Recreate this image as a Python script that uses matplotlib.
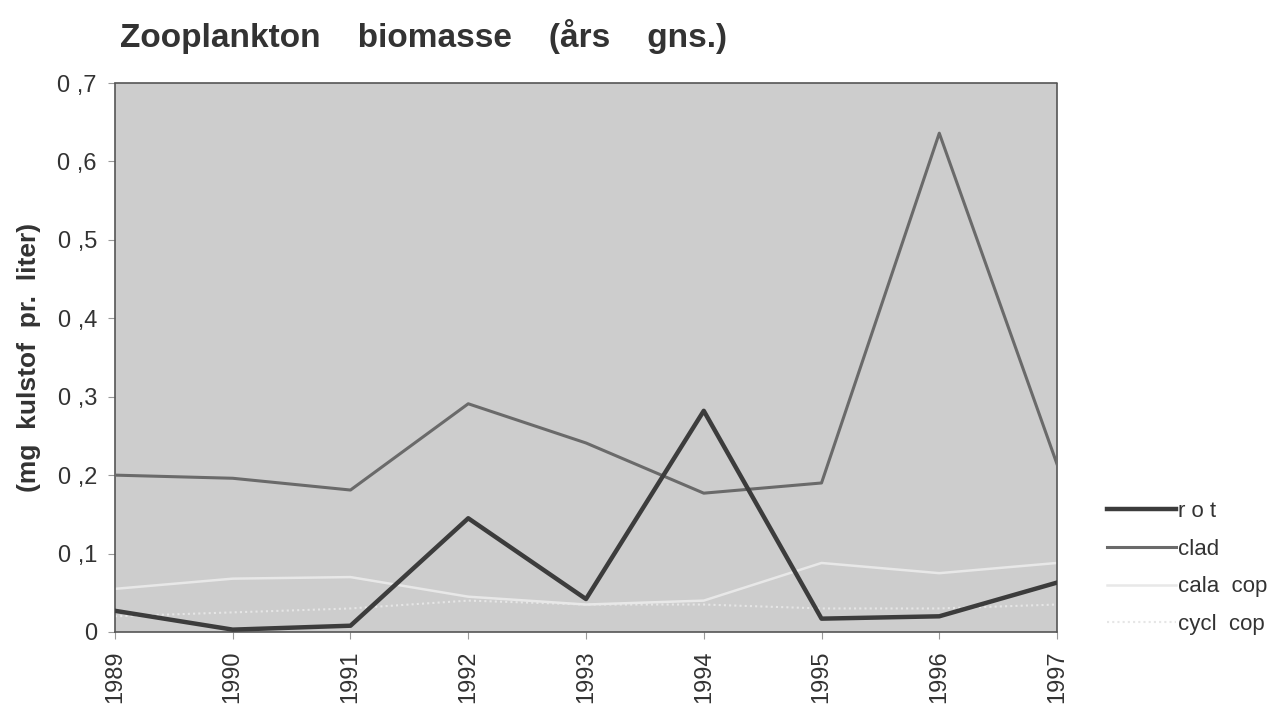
import matplotlib
matplotlib.use("Agg")
import matplotlib.pyplot as plt
from matplotlib.ticker import FuncFormatter

years = [1989, 1990, 1991, 1992, 1993, 1994, 1995, 1996, 1997]
rot = [0.027, 0.003, 0.008, 0.145, 0.042, 0.282, 0.017, 0.020, 0.063]
clad = [0.200, 0.196, 0.181, 0.291, 0.241, 0.177, 0.190, 0.636, 0.214]
cala_cop = [0.055, 0.068, 0.070, 0.045, 0.035, 0.040, 0.088, 0.075, 0.088]
cycl_cop = [0.020, 0.025, 0.030, 0.040, 0.035, 0.035, 0.030, 0.030, 0.035]
y_ticks = [0, 0.1, 0.2, 0.3, 0.4, 0.5, 0.6, 0.7]

plt.rcParams['font.family'] = ['Liberation Sans', 'DejaVu Sans']

fig = plt.figure(figsize=(12.76, 7.18), dpi=100)
fig.patch.set_facecolor('white')
ax = fig.add_axes([0.0901, 0.1198, 0.7383, 0.7646])
ax.set_facecolor('#cdcdcd')

ax.plot(years, cycl_cop, color='#e6e6e6', lw=1.5, ls=(0, (1, 1.5)), label='cycl cop', zorder=2)
ax.plot(years, cala_cop, color='#e8e8e8', lw=1.8, label='cala cop', zorder=2)
ax.plot(years, clad, color='#6a6a6a', lw=2.2, label='clad', zorder=3)
ax.plot(years, rot, color='#3c3c3c', lw=3.2, label='rot', zorder=4)

ax.set_xlim(1989, 1997)
ax.set_ylim(0, 0.7)
ax.set_yticks(y_ticks)
ax.yaxis.set_major_formatter(FuncFormatter(lambda v, p: '0' if v == 0 else f"{v:.1f}".replace('.', ' ,')))
ax.set_xticks(years)
ax.set_xticklabels([str(y) for y in years], rotation=90, fontsize=17, color='#333333')
for lbl in ax.get_yticklabels():
    lbl.set_fontsize(17)
    lbl.set_color('#333333')
ax.tick_params(axis='both', direction='out', length=5, width=0.8, color='#999999', pad=8)

for s in ax.spines.values():
    s.set_linestyle((0, (1, 1)))
    s.set_color('#555555')
    s.set_linewidth(1.2)

ax.set_ylabel('(mg  kulstof  pr.  liter)', fontsize=19, fontweight='bold', color='#333333', labelpad=12)

fig.text(0.094, 0.935, 'Zooplankton    biomasse    (års    gns.)', fontsize=24, fontweight='bold',
         color='#333333', ha='left', va='baseline')

handles, labels = ax.get_legend_handles_labels()
order = [3, 2, 1, 0]
leg = fig.legend([handles[i] for i in order], ['r o t', 'clad', 'cala  cop', 'cycl  cop'],
                 loc='upper left', bbox_to_anchor=(0.852, 0.33), frameon=False,
                 fontsize=16, handlelength=3.1, handletextpad=0.1, labelspacing=0.75,
                 labelcolor='#333333')

fig.savefig('out.png', dpi=100, facecolor='white')
